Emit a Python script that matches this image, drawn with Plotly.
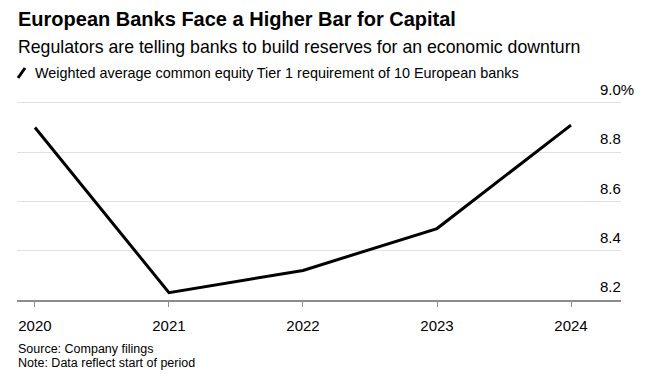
import plotly.graph_objects as go

years = [2020, 2021, 2022, 2023, 2024]
cet1 = [8.90, 8.23, 8.32, 8.49, 8.91]
y_ticks = [8.2, 8.4, 8.6, 8.8, 9.0]
y_ticktext = ["8.2", "8.4", "8.6", "8.8", "9.0%"]
x_ticktext = ["2020", "2021", "2022", "2023", "2024"]

W, H = 651, 385
ML, MR, MT, MB = 17, 30, 98, 85
PW, PH = W - ML - MR, H - MT - MB
FONT = "Liberation Sans, Arial, sans-serif"

def px(x):
    return (x - ML) / PW

def py(y):
    return (H - MB - y) / PH

fig = go.Figure()
fig.add_trace(go.Scatter(x=years, y=cet1, mode="lines",
                         line=dict(color="#000000", width=3),
                         hoverinfo="skip", showlegend=False, cliponaxis=False))

fig.update_layout(
    width=W, height=H,
    margin=dict(l=ML, r=MR, t=MT, b=MB, autoexpand=False),
    paper_bgcolor="white", plot_bgcolor="white",
    font=dict(family=FONT, color="#000000"),
    xaxis=dict(range=[2019.866, 2024.373], tickvals=years, ticktext=x_ticktext,
               showgrid=False, zeroline=False, automargin=False,
               showline=True, linecolor="#8c8c8c", linewidth=1.5,
               ticks="outside", ticklen=5, tickcolor="#8c8c8c", tickwidth=1,
               tickfont=dict(size=15, family=FONT, color="#000"),
               ticklabelstandoff=6, fixedrange=True),
    yaxis=dict(range=[8.2, 9.02], tickvals=y_ticks, ticktext=y_ticktext,
               side="right", showgrid=True, gridcolor="#e0e0e0", gridwidth=1,
               zeroline=False, showline=False, ticks="", automargin=False,
               tickfont=dict(size=15, family=FONT, color="#000"),
               ticklabelstandoff=-22, ticklabelshift=-13, fixedrange=True),
)

annos = [
    dict(text="<b>European Banks Face a Higher Bar for Capital</b>", x=16, y=19, size=20),
    dict(text="Regulators are telling banks to build reserves for an economic downturn", x=16, y=47, size=17.7),
    dict(text="Weighted average common equity Tier 1 requirement of 10 European banks", x=33, y=73, size=14.4),
    dict(text="Source: Company filings", x=16, y=349, size=12.5),
    dict(text="Note: Data reflect start of period", x=16, y=363, size=12.5),
]
for a in annos:
    fig.add_annotation(text=a["text"], xref="paper", yref="paper",
                       x=px(a["x"]), y=py(a["y"]), xanchor="left", yanchor="middle",
                       showarrow=False, font=dict(size=a["size"], family=FONT, color="#000"))

fig.add_shape(type="line", xref="paper", yref="paper",
              x0=px(18), y0=py(78), x1=px(25), y1=py(68),
              line=dict(color="#000", width=3))

fig.write_html("out.html", config={"displayModeBar": False},
               post_script="document.body.style.margin='0';")
